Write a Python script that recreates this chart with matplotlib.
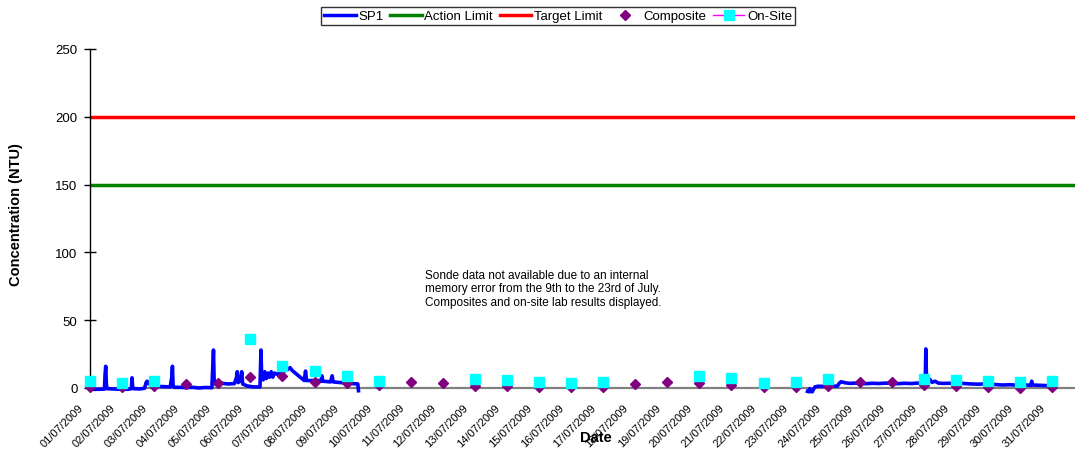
import numpy as np
import pandas as pd
import matplotlib
matplotlib.use("Agg")
import matplotlib.pyplot as plt
import matplotlib.dates as mdates
from matplotlib.lines import Line2D
from matplotlib.transforms import ScaledTranslation

plt.rcParams['font.family'] = ['Liberation Sans', 'DejaVu Sans']

start = pd.Timestamp("2009-07-01")

# SP1 sonde readings: days after 01/07/2009 00:00 and turbidity (NTU)
# nan marks the gap (sonde memory error, 9th to 23rd)
sp1_days = [0.00, 0.15, 0.30, 0.45, 0.47, 0.49, 0.51, 0.53, 0.80, 1.00, 1.20, 1.29, 1.31, 1.33,
            1.35, 1.55, 1.70, 1.75, 1.78, 1.85, 1.95, 2.10, 2.30, 2.50, 2.55, 2.57, 2.59, 2.62,
            2.80, 3.00, 3.20, 3.40, 3.60, 3.80, 3.83, 3.85, 3.87, 3.90, 4.10, 4.30, 4.50, 4.57,
            4.59, 4.62, 4.70, 4.73, 4.76, 4.90, 5.10, 5.30, 5.33, 5.35, 5.40, 5.45, 5.50, 5.55,
            5.60, 5.65, 5.70, 5.75, 5.85, 5.95, 6.05, 6.15, 6.24, 6.30, 6.40, 6.50, 6.60, 6.68,
            6.72, 6.75, 6.90, 7.10, 7.20, 7.23, 7.26, 7.50, 7.55, 7.58, 7.80, 8.00, 8.20, 8.35,
            8.37,
            15.0,
            22.37, 22.41, 22.44, 22.47, 22.52, 22.56, 22.60, 22.70, 22.90, 23.10, 23.30, 23.36,
            23.42, 23.55, 23.70, 23.85, 24.00, 24.20, 24.40, 24.60, 24.80, 25.00, 25.20, 25.40,
            25.60, 25.80, 26.00, 26.04, 26.06, 26.08, 26.12, 26.18, 26.25, 26.35, 26.45, 26.60,
            26.80, 27.00, 27.20, 27.45, 27.70, 27.95, 28.20, 28.45, 28.70, 28.95, 29.20, 29.33,
            29.36, 29.39, 29.60, 29.80, 30.03]
sp1_ntu = [-0.8, -1.0, -0.9, -0.8, 10.0, 16.0, 3.0, -0.5, -0.8, -1.0, -0.9, -0.5, 7.5, 1.0,
           -0.5, -0.7, -0.2, 4.0, 5.0, 3.0, 1.5, 1.2, 1.0, 0.8, 8.0, 16.0, 2.0, 0.5,
           0.5, 0.3, 0.5, 0.0, 0.4, 0.2, 18.0, 28.0, 6.0, 3.0, 3.5, 3.0, 3.2, 8.0,
           12.0, 4.0, 6.0, 12.0, 3.0, 1.5, 0.8, 0.8, 28.0, 10.0, 6.0, 12.0, 7.0, 11.0,
           8.0, 12.0, 8.0, 11.0, 10.0, 12.0, 12.5, 13.5, 15.0, 13.0, 11.0, 9.0, 7.0, 5.5,
           12.5, 5.5, 5.5, 5.5, 5.0, 9.0, 5.0, 4.5, 9.0, 4.5, 4.0, 3.8, 3.2, 3.0,
           -2.0,
           np.nan,
           -2.5, -2.8, -0.5, -2.6, -2.8, -0.8, 0.8, 1.3, 1.2, 1.3, 1.4, 3.5,
           4.6, 3.8, 3.4, 3.6, 3.4, 3.2, 3.5, 3.3, 3.6, 3.4, 3.2, 3.5,
           3.3, 3.6, 3.5, 3.5, 28.8, 6.0, 4.5, 6.5, 4.2, 5.0, 3.6, 3.4,
           3.5, 3.2, 3.4, 3.0, 2.8, 3.1, 2.6, 2.2, 2.4, 2.0, 2.2, 2.0,
           5.0, 2.2, 2.0, 1.8, 2.0]

# daily composite samples
comp_days = list(range(31))
comp_ntu = [0.5, 1.0, 1.7, 3.0, 3.4, 8.0, 8.6, 4.2, 3.7, 2.4, 4.2, 3.4, 1.7, 1.7, 0.5, 0.5,
            0.5, 3.2, 4.2, 3.4, 2.5, 0.5, 0.5, 1.7, 4.2, 4.7, 2.2, 1.7, 0.5, 0.2, 0.5]

# on-site lab results
onsite_days = [0, 1, 2, 5, 6, 7, 8, 9, 12, 13, 14, 15, 16, 19, 20, 21, 22, 23, 26, 27, 28, 29, 30]
onsite_ntu = [4.9, 3.7, 4.9, 36.0, 16.4, 12.8, 8.6, 5.4, 6.6, 6.1, 4.2, 3.9, 4.7, 8.6, 7.6, 3.8,
              4.2, 6.6, 6.6, 6.1, 5.4, 4.2, 4.9]

action_limit = 150
target_limit = 200

t0 = mdates.date2num(start.to_pydatetime())
sp1_x = t0 + np.array(sp1_days)
comp_x = t0 + np.array(comp_days)
onsite_x = t0 + np.array(onsite_days)

fig = plt.figure(figsize=(10.75, 4.77), dpi=100)
ax = fig.add_axes([90 / 1075, 88 / 477, 985 / 1075, 339 / 477])

ax.plot(sp1_x, sp1_ntu, color='#0000FF', lw=2.6, clip_on=False, zorder=3)
ax.axhline(action_limit, color='#008000', lw=2.5, zorder=2)
ax.axhline(target_limit, color='#FF0000', lw=2.5, zorder=2)
ax.plot(comp_x, comp_ntu, ls='none', marker='D', ms=5.5, color='#800080', clip_on=False, zorder=4)
ax.plot(onsite_x, onsite_ntu, ls='none', marker='s', ms=6.5, mfc='#00FFFF', mec='#00FFFF',
        clip_on=False, zorder=5)

ax.set_xlim(t0, t0 + 30.71)
ax.set_ylim(0, 250)
ax.set_yticks(range(0, 251, 50))
ax.xaxis.set_major_locator(mdates.DayLocator())
ax.xaxis.set_major_formatter(mdates.DateFormatter('%d/%m/%Y'))

for s in ['top', 'right']:
    ax.spines[s].set_visible(False)
ax.spines['left'].set_color('black')
ax.spines['left'].set_linewidth(1)
ax.spines['bottom'].set_color('#808080')
ax.spines['bottom'].set_linewidth(1.6)

ax.tick_params(axis='y', direction='inout', length=8, width=1, labelsize=9.5, pad=5)
ax.tick_params(axis='x', length=0, labelsize=8, pad=10)
shift = ScaledTranslation(-5 / 100, 0, fig.dpi_scale_trans)
for lab in ax.get_xticklabels():
    lab.set_rotation(45)
    lab.set_ha('right')
    lab.set_transform(lab.get_transform() + shift)

fig.text(16 / 1075, 1 - 215 / 477, 'Concentration (NTU)', rotation=90, ha='center', va='center',
         fontsize=10.5, fontweight='bold')
fig.text(596 / 1075, 1 - 438 / 477, 'Date', ha='center', va='center', fontsize=10.5,
         fontweight='bold')

fig.text(425 / 1075, 1 - 270 / 477,
         'Sonde data not available due to an internal\n'
         'memory error from the 9th to the 23rd of July.\n'
         'Composites and on-site lab results displayed.',
         ha='left', va='top', fontsize=8.5, linespacing=1.15)

handles = [
    Line2D([], [], color='#0000FF', lw=2.5),
    Line2D([], [], color='#008000', lw=2.5),
    Line2D([], [], color='#FF0000', lw=2.5),
    Line2D([], [], ls='none', marker='D', ms=5.5, color='#800080'),
    Line2D([], [], color='#FF00FF', lw=1, marker='s', ms=6.5, mfc='#00FFFF', mec='#00FFFF'),
]
labels = ['SP1', 'Action Limit', 'Target Limit', 'Composite', 'On-Site']
leg = fig.legend(handles, labels, loc='center', bbox_to_anchor=(558 / 1075, 1 - 17 / 477),
                 ncol=5, fontsize=9.5, frameon=True, fancybox=False, edgecolor='black',
                 handlelength=2.4, handletextpad=0.2, columnspacing=0.5, borderpad=0.25,
                 borderaxespad=0)
leg.get_frame().set_linewidth(1)

fig.savefig('out.png', dpi=100)
